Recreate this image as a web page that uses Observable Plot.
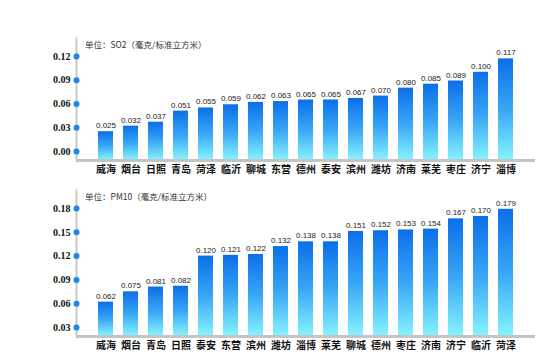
<!DOCTYPE html>
<html>
<head>
<meta charset="utf-8">
<script src="https://cdn.jsdelivr.net/npm/d3@7"></script>
<script src="https://cdn.jsdelivr.net/npm/@observablehq/plot@0.6"></script>
<style>
  body { margin: 0; background: #fff; width: 550px; height: 360px; position: relative; overflow: hidden; }
  .chart { position: absolute; left: 0; }
  .unit { position: absolute; left: 85px; font: 8.5px "Noto Sans CJK SC", sans-serif; color: #333; white-space: nowrap; }
</style>
</head>
<body>
<div id="c1" class="chart" style="top:0px"></div>
<div id="c2" class="chart" style="top:180px"></div>
<div class="unit" style="top:38px">单位：SO2（毫克/标准立方米）</div>
<div class="unit" style="top:190px">单位：PM10（毫克/标准立方米）</div>
<script>
const so2Cities = ["威海","烟台","日照","青岛","菏泽","临沂","聊城","东营","德州","泰安","滨州","潍坊","济南","莱芜","枣庄","济宁","淄博"];
const so2Values = [0.025,0.032,0.037,0.051,0.055,0.059,0.062,0.063,0.065,0.065,0.067,0.070,0.080,0.085,0.089,0.100,0.117];
const so2Ticks = [0.00,0.03,0.06,0.09,0.12];

const pmCities = ["威海","烟台","青岛","日照","泰安","东营","滨州","潍坊","淄博","莱芜","聊城","德州","枣庄","济南","济宁","临沂","菏泽"];
const pmValues = [0.062,0.075,0.081,0.082,0.120,0.121,0.122,0.132,0.138,0.138,0.151,0.152,0.153,0.154,0.167,0.170,0.179];
const pmTicks = [0.03,0.06,0.09,0.12,0.15,0.18];

function makeChart(cities, values, ticks, yDomain, marginTop, marginBottom, gradId) {
  const data = cities.map((c, i) => ({city: c, value: values[i]}));
  const y0 = yDomain[0];
  const svg = Plot.plot({
    width: 550,
    height: 180,
    marginLeft: 76,
    marginRight: 15,
    marginTop,
    marginBottom,
    style: {background: "transparent", overflow: "visible"},
    x: {domain: cities, paddingInner: 0.41, paddingOuter: 0.74, axis: null},
    y: {domain: yDomain, axis: null},
    marks: [
      Plot.barY(data, {x: "city", y1: y0, y2: "value", fill: `url(#${gradId})`}),
      Plot.frame({anchor: "left", stroke: "#c9c9c9", strokeWidth: 2}),
      Plot.ruleY([y0], {stroke: "#c4c4c4", strokeWidth: 3}),
      Plot.dot(ticks, {y: d => d, frameAnchor: "left", r: 3, fill: "#1a86f0", stroke: "none"}),
      Plot.text(ticks, {y: d => d, frameAnchor: "left", text: d => d.toFixed(2), textAnchor: "end", dx: -6,
        fontFamily: "Liberation Serif, serif", fontWeight: "bold", fontSize: 10, fill: "#111"}),
      Plot.text(data, {x: "city", y: "value", text: d => d.value.toFixed(3), dy: -6,
        fontFamily: "Liberation Sans, Arial, sans-serif", fontSize: 8, fill: "#222"}),
      Plot.text(data, {x: "city", y: y0, text: "city", dy: 9,
        fontFamily: "Noto Sans CJK SC, sans-serif", fontWeight: "bold", fontSize: 10, fill: "#111"})
    ]
  });
  const ns = "http://www.w3.org/2000/svg";
  const defs = document.createElementNS(ns, "defs");
  defs.innerHTML = `<linearGradient id="${gradId}" x1="0" y1="0" x2="0" y2="1">
    <stop offset="0" stop-color="#0b6fe8"/>
    <stop offset="0.5" stop-color="#39a6f6"/>
    <stop offset="1" stop-color="#86f4ff"/>
  </linearGradient>`;
  svg.insertBefore(defs, svg.firstChild);
  return svg;
}

document.getElementById("c1").appendChild(
  makeChart(so2Cities, so2Values, so2Ticks, [-0.0114, 0.1427], 38, 20, "g1"));
document.getElementById("c2").appendChild(
  makeChart(pmCities, pmValues, pmTicks, [0.01865, 0.2027], 10, 24, "g2"));
</script>
</body>
</html>
